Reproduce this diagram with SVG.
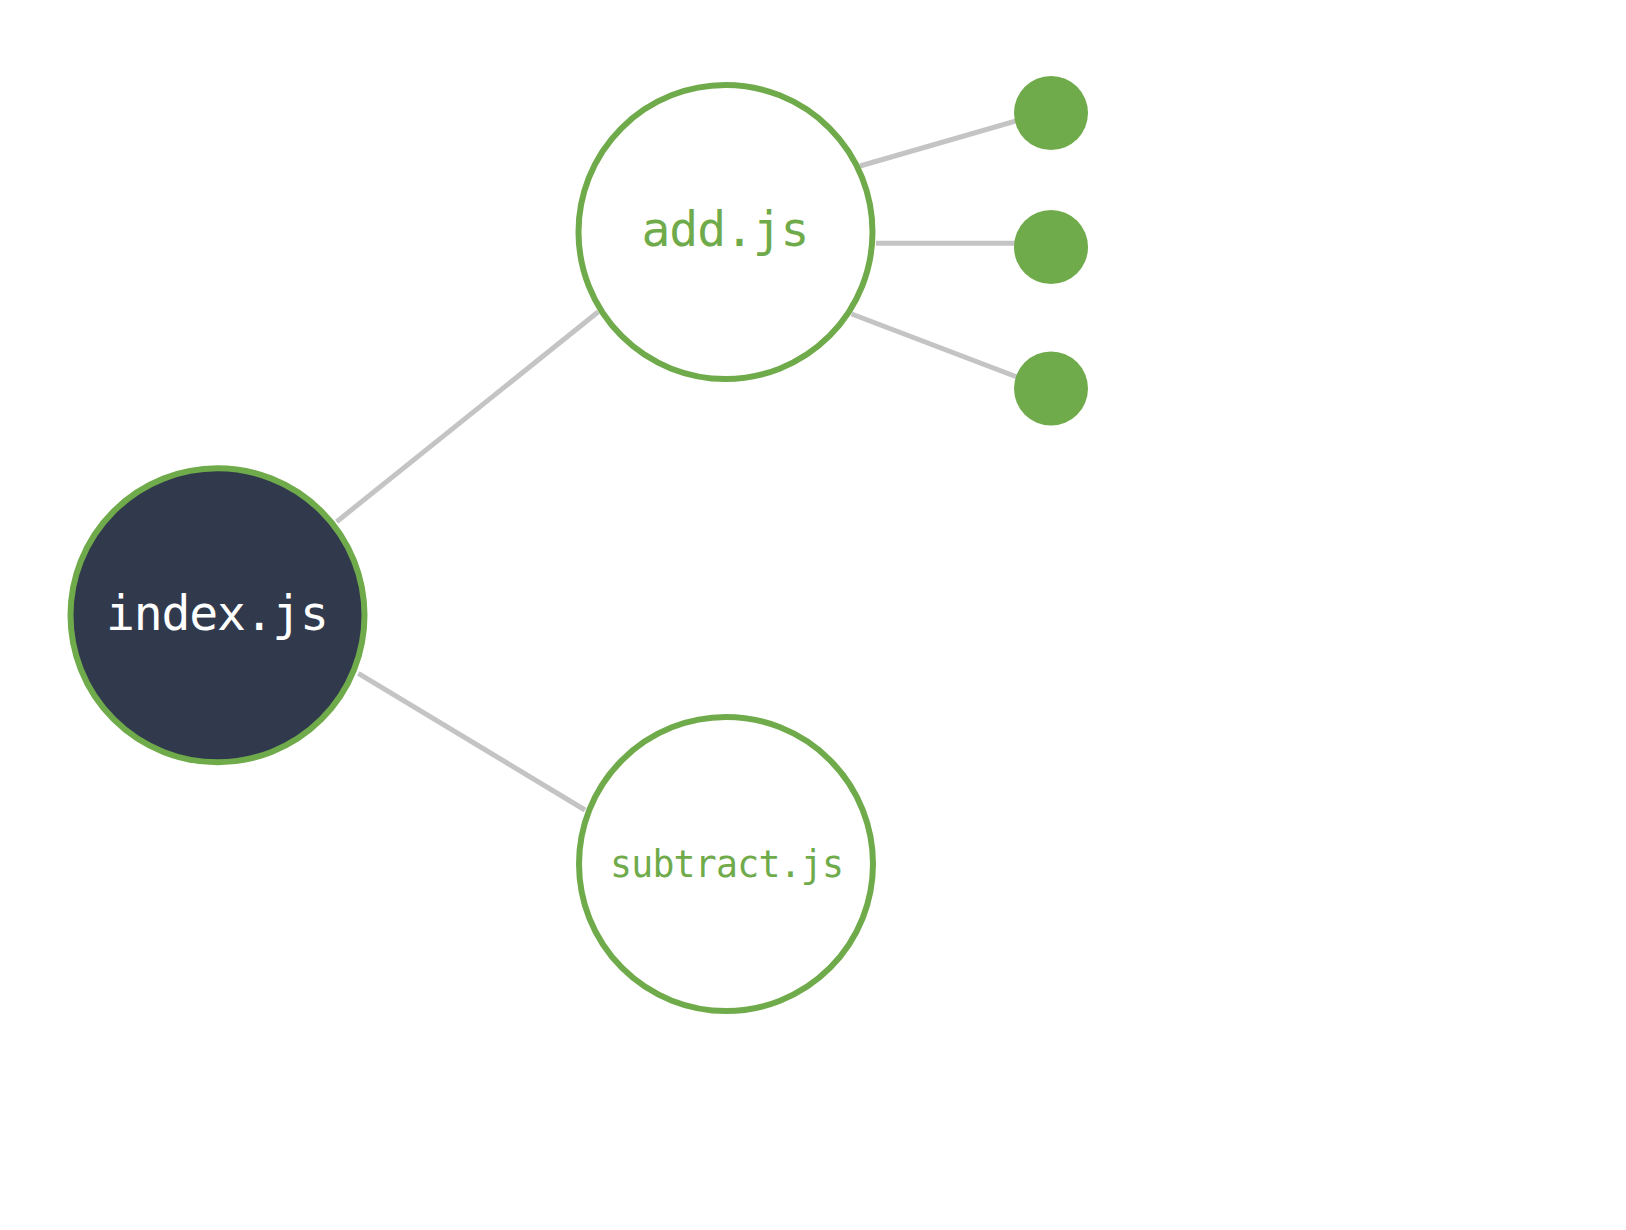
<svg xmlns="http://www.w3.org/2000/svg" width="1626" height="1230" viewBox="0 0 1626 1230">
<style>
.edge{stroke:#c4c4c4;stroke-width:5;fill:none}
.node{stroke:#70ab4b;stroke-width:6}
.lbl{font-family:"DejaVu Sans Mono","Liberation Mono",monospace;text-anchor:middle}
.leaf{fill:#70ab4b}
</style>
<rect width="1626" height="1230" fill="#ffffff"/>
<g id="connectors">
<line class="edge" x1="336.7" y1="521.7" x2="598.3" y2="311.7"/>
<line class="edge" x1="358.3" y1="673.3" x2="585" y2="810"/>
<line class="edge" x1="860" y1="166" x2="1030" y2="117"/>
<line class="edge" x1="876" y1="243.3" x2="1030" y2="243.3"/>
<line class="edge" x1="851.7" y1="314" x2="1030" y2="382"/>
</g>
<g id="index">
<circle class="node" cx="217.5" cy="615.3" r="147" fill="#313a4d"/>
<text class="lbl" x="217.5" y="630" font-size="48" textLength="223" fill="#ffffff">index.js</text>
</g>
<g id="add">
<circle class="node" cx="725.5" cy="232" r="147" fill="#ffffff"/>
<text class="lbl" x="725.5" y="246" font-size="48" textLength="168" fill="#70ab4b">add.js</text>
</g>
<g id="subtract">
<circle class="node" cx="726" cy="864" r="147" fill="#ffffff"/>
<text class="lbl" x="727" y="877" font-size="36.5" textLength="234" fill="#70ab4b">subtract.js</text>
</g>
<g id="leaf1"><circle class="leaf" cx="1051" cy="113" r="37"/></g>
<g id="leaf2"><circle class="leaf" cx="1051" cy="247" r="37"/></g>
<g id="leaf3"><circle class="leaf" cx="1051" cy="388.5" r="37"/></g>
</svg>
